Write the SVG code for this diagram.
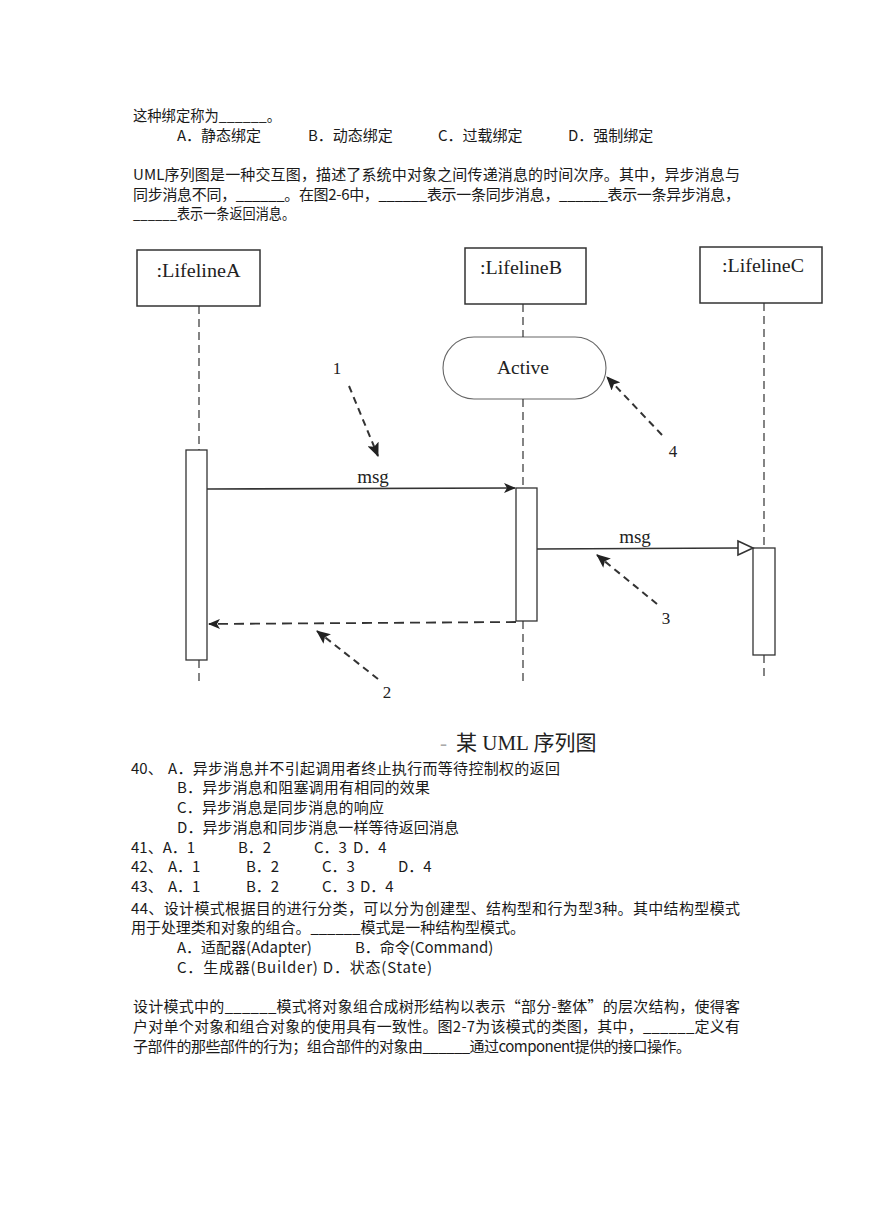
<svg xmlns="http://www.w3.org/2000/svg" width="869" height="1228" viewBox="0 0 869 1228">
<style>
.t{font-family:"Noto Sans CJK SC","Liberation Sans",sans-serif;font-size:15px;fill:#1a1a1a}
.d{font-family:"Liberation Serif","Noto Sans CJK SC",serif;fill:#222}
.box{fill:#fff;stroke:#333;stroke-width:1.5}
.act{fill:#fff;stroke:#333;stroke-width:1.3}
.life{stroke:#333;stroke-width:1.2;stroke-dasharray:8 5;fill:none}
.msg{stroke:#333;stroke-width:1.6;fill:none}
.ret{stroke:#333;stroke-width:1.8;stroke-dasharray:10 6;fill:none}
.note{stroke:#333;stroke-width:2;stroke-dasharray:7 5;fill:none}
</style>
<defs>
<marker id="fill" markerWidth="12" markerHeight="10" refX="11" refY="5" orient="auto" markerUnits="userSpaceOnUse">
<path d="M0,0 L12,5 L0,10 L3,5 z" fill="#222"/>
</marker>
<marker id="noteHead" markerWidth="14" markerHeight="12" refX="13" refY="6" orient="auto" markerUnits="userSpaceOnUse">
<path d="M0,0 L14,6 L0,12 L3,6 z" fill="#222"/>
</marker>
</defs>
<rect width="869" height="1228" fill="#fff"/>

<g id="text-top">
<text class="t" x="133" y="121" textLength="148" lengthAdjust="spacingAndGlyphs">这种绑定称为______。</text>
<text class="t" y="141"><tspan x="177">A．静态绑定</tspan><tspan x="308">B．动态绑定</tspan><tspan x="438">C．过载绑定</tspan><tspan x="568">D．强制绑定</tspan></text>
<text class="t" x="133" y="180" textLength="607" lengthAdjust="spacing">UML序列图是一种交互图，描述了系统中对象之间传递消息的时间次序。其中，异步消息与</text>
<text class="t" x="133" y="200" textLength="607" lengthAdjust="spacing">同步消息不同，______。在图2-6中，______表示一条同步消息，______表示一条异步消息，</text>
<text class="t" x="133" y="219" textLength="162" lengthAdjust="spacingAndGlyphs">______表示一条返回消息。</text>
</g>

<g id="lifelineA">
<rect class="box" x="137" y="250" width="123" height="56"/>
<text class="d" x="198.5" y="277" font-size="18" text-anchor="middle" textLength="84" lengthAdjust="spacingAndGlyphs">:LifelineA</text>
</g>
<g id="lifelineB">
<rect class="box" x="465" y="248" width="121" height="56"/>
<text class="d" x="521" y="274" font-size="18" text-anchor="middle" textLength="82" lengthAdjust="spacingAndGlyphs">:LifelineB</text>
</g>
<g id="lifelineC">
<rect class="box" x="700" y="247" width="122" height="56"/>
<text class="d" x="763" y="272" font-size="18" text-anchor="middle" textLength="82" lengthAdjust="spacingAndGlyphs">:LifelineC</text>
</g>
<g id="active-state">
<rect x="443" y="337" width="163" height="62" rx="31" ry="31" fill="#fff" stroke="#666" stroke-width="1.1"/>
<text class="d" x="523" y="374" font-size="18" text-anchor="middle" textLength="52" lengthAdjust="spacingAndGlyphs">Active</text>
</g>

<g id="lifelines">
<line class="life" x1="199" y1="306" x2="199" y2="450"/>
<line class="life" x1="199" y1="660" x2="199" y2="686"/>
<line class="life" x1="523" y1="304" x2="523" y2="337"/>
<line class="life" x1="523" y1="399" x2="523" y2="488"/>
<line class="life" x1="523" y1="621" x2="523" y2="684"/>
<line class="life" x1="764" y1="303" x2="764" y2="548"/>
<line class="life" x1="764" y1="655" x2="764" y2="681"/>
</g>

<g id="activationA"><rect class="act" x="186" y="450" width="21" height="210"/></g>
<g id="activationB"><rect class="act" x="516" y="488" width="21" height="133"/></g>
<g id="activationC"><rect class="act" x="753" y="548" width="22" height="107"/></g>

<g id="connectors">
<line class="msg" x1="207" y1="489" x2="515" y2="488" marker-end="url(#fill)"/>
<text class="d" x="373" y="483" font-size="19" text-anchor="middle">msg</text>
<line class="msg" x1="537" y1="549" x2="739" y2="548"/>
<polygon points="738,541 753,548 738,555" fill="#fff" stroke="#333" stroke-width="1.6"/>
<text class="d" x="635" y="543" font-size="19" text-anchor="middle">msg</text>
<line class="ret" x1="516" y1="622" x2="209" y2="624" marker-end="url(#fill)"/>
</g>

<g id="annotations">
<text class="d" x="337" y="374" font-size="17" text-anchor="middle">1</text>
<line class="note" x1="349" y1="386" x2="378" y2="456" marker-end="url(#noteHead)"/>
<text class="d" x="673" y="457" font-size="17" text-anchor="middle">4</text>
<line class="note" x1="662" y1="435" x2="607" y2="377" marker-end="url(#noteHead)"/>
<text class="d" x="666" y="624" font-size="17" text-anchor="middle">3</text>
<line class="note" x1="657" y1="604" x2="597" y2="555" marker-end="url(#noteHead)"/>
<text class="d" x="387" y="698" font-size="17" text-anchor="middle">2</text>
<line class="note" x1="378" y1="679" x2="317" y2="631" marker-end="url(#noteHead)"/>
</g>

<g id="caption">
<text class="d" x="440" y="750" font-size="21"><tspan fill="#aaa">-</tspan><tspan x="456">某 UML 序列图</tspan></text>
</g>

<g id="text-bottom">
<text class="t" y="774"><tspan x="131">40、</tspan><tspan x="168" textLength="392" lengthAdjust="spacing">A．异步消息并不引起调用者终止执行而等待控制权的返回</tspan></text>
<text class="t" x="177" y="793" textLength="253" lengthAdjust="spacing">B．异步消息和阻塞调用有相同的效果</text>
<text class="t" x="177" y="813" textLength="207" lengthAdjust="spacing">C．异步消息是同步消息的响应</text>
<text class="t" x="177" y="833" textLength="282" lengthAdjust="spacing">D．异步消息和同步消息一样等待返回消息</text>
<text class="t" y="853"><tspan x="131">41、A．1</tspan><tspan x="238">B．2</tspan><tspan x="314">C．3</tspan><tspan x="353">D．4</tspan></text>
<text class="t" y="872"><tspan x="131">42、</tspan><tspan x="168">A．1</tspan><tspan x="246">B．2</tspan><tspan x="322">C．3</tspan><tspan x="398">D．4</tspan></text>
<text class="t" y="892"><tspan x="131">43、</tspan><tspan x="168">A．1</tspan><tspan x="246">B．2</tspan><tspan x="322">C．3</tspan><tspan x="360">D．4</tspan></text>
<text class="t" x="131" y="914" textLength="609" lengthAdjust="spacing">44、设计模式根据目的进行分类，可以分为创建型、结构型和行为型3种。其中结构型模式</text>
<text class="t" x="131" y="933" textLength="394" lengthAdjust="spacing">用于处理类和对象的组合。______模式是一种结构型模式。</text>
<text class="t" y="953"><tspan x="177">A．适配器(Adapter)</tspan><tspan x="355">B．命令(Command)</tspan></text>
<text class="t" x="177" y="973" textLength="255" lengthAdjust="spacing">C．生成器(Builder) D．状态(State)</text>
<text class="t" x="133" y="1012" textLength="607" lengthAdjust="spacing">设计模式中的______模式将对象组合成树形结构以表示“部分-整体”的层次结构，使得客</text>
<text class="t" x="133" y="1032" textLength="607" lengthAdjust="spacing">户对单个对象和组合对象的使用具有一致性。图2-7为该模式的类图，其中，______定义有</text>
<text class="t" x="133" y="1052" textLength="558" lengthAdjust="spacing">子部件的那些部件的行为；组合部件的对象由______通过component提供的接口操作。</text>
</g>
</svg>
